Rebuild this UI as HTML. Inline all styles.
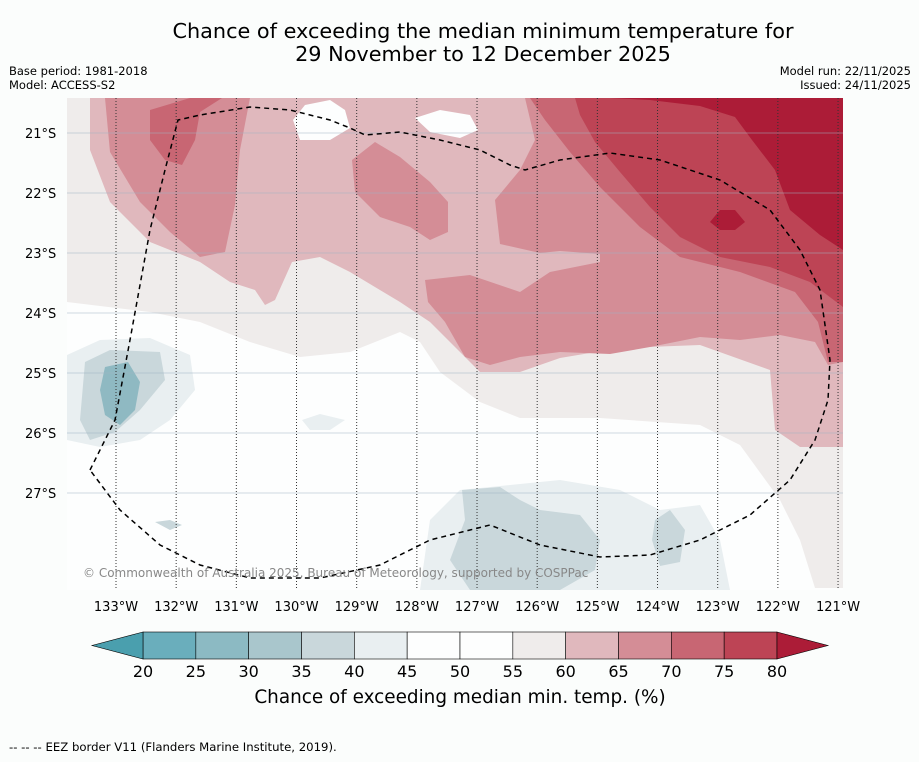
<!DOCTYPE html>
<html><head><meta charset="utf-8">
<style>
html,body{margin:0;padding:0;background:#fbfdfc;}
body{width:919px;height:758px;overflow:hidden;font-family:"DejaVu Sans","Liberation Sans",sans-serif;}
svg text{font-family:"DejaVu Sans","Liberation Sans",sans-serif;}
</style></head>
<body>
<svg width="919" height="758" viewBox="0 0 919 758">
<rect x="0" y="0" width="919" height="758" fill="#fbfdfc"/>
<text x="483" y="38" text-anchor="middle" font-size="20.8" fill="#000">Chance of exceeding the median minimum temperature for</text>
<text x="483" y="61" text-anchor="middle" font-size="20.8" fill="#000">29 November to 12 December 2025</text>
<text x="9" y="75" font-size="11.5">Base period: 1981-2018</text>
<text x="9" y="89" font-size="11.5">Model: ACCESS-S2</text>
<text x="911" y="75" font-size="11.5" text-anchor="end">Model run: 22/11/2025</text>
<text x="911" y="89" font-size="11.5" text-anchor="end">Issued: 24/11/2025</text>

<defs><clipPath id="mapclip"><rect x="67" y="98" width="776" height="492"/></clipPath></defs>
<g clip-path="url(#mapclip)">
<rect x="67" y="98" width="776" height="492" fill="#fdfefe"/>
<path fill="#efeceb" d="M67,98 L843,98 L843,588 L815,588 L800,540 L780,500 L740,445 L700,425 L600,418 L520,418 L480,402 L440,372 L420,342 L400,332 L350,352 L300,357 L250,342 L200,322 L150,312 L67,302 Z"/>
<path fill="#e0b8bd" d="M90,98 L843,98 L843,447 L800,447 L775,430 L770,370 L700,345 L620,348 L560,358 L520,372 L480,372 L460,352 L430,322 L400,302 L350,272 L320,257 L292,262 L275,300 L265,305 L255,290 L230,282 L200,262 L150,242 L110,202 L90,150 Z"/>
<path fill="#fdfefe" d="M293,120 L305,105 L330,100 L345,110 L350,128 L330,140 L300,140 Z M415,118 L440,110 L470,115 L478,130 L460,138 L430,132 Z"/>
<path fill="#d48d96" d="M105,98 L250,98 L240,150 L235,205 L225,252 L200,257 L170,232 L140,202 L110,152 Z M352,160 L375,142 L400,157 L430,182 L448,202 L448,232 L430,240 L410,227 L380,217 L355,192 Z M490,98 L843,98 L843,362 L828,365 L815,342 L780,335 L740,340 L700,337 L650,347 L610,354 L560,352 L520,357 L490,365 L465,357 L445,322 L428,302 L425,280 L470,275 L520,292 L550,272 L600,262 L600,254 L560,251 L540,253 L500,244 L495,200 L520,170 L535,140 L525,98 Z"/>
<path fill="#c86673" d="M530,98 L843,98 L843,362 L828,362 L818,322 L795,292 L740,272 L680,257 L640,227 L600,187 L570,152 L545,120 Z M150,110 L190,98 L222,98 L200,112 L195,140 L182,165 L165,160 L150,140 Z"/>
<path fill="#bd4455" d="M575,98 L843,98 L843,307 L810,282 L770,267 L720,257 L680,237 L650,207 L620,172 L595,142 L580,115 Z"/>
<path fill="#ac1c37" d="M610,98 L843,98 L843,250 L820,235 L790,210 L775,170 L752,140 L735,117 L700,106 L650,100 Z M710,222 L720,210 L735,210 L745,222 L735,230 L720,230 Z"/>
<path fill="#e9eff1" d="M67,355 L100,340 L150,338 L190,355 L195,390 L170,420 L140,440 L100,447 L67,440 Z M420,590 L430,520 L460,490 L510,485 L560,480 L620,490 L660,510 L700,505 L720,540 L730,590 Z M302,420 L320,414 L345,420 L330,430 L310,430 Z"/>
<path fill="#c9d7db" d="M85,362 L110,350 L160,352 L165,380 L140,410 L115,432 L90,440 L80,420 Z M462,490 L500,487 L520,500 L540,510 L580,515 L600,540 L595,570 L560,590 L470,590 L450,560 L465,520 Z M655,520 L670,510 L685,530 L680,562 L660,566 L652,540 Z M155,522 L170,520 L182,525 L170,530 Z"/>
<path fill="#8fb9c2" d="M105,367 L128,362 L140,382 L135,410 L120,425 L105,415 L100,390 Z"/>
<g stroke="#9fb3c3" stroke-width="0.5">
<line x1="67" y1="133" x2="843" y2="133"/><line x1="67" y1="193" x2="843" y2="193"/><line x1="67" y1="253" x2="843" y2="253"/><line x1="67" y1="313" x2="843" y2="313"/><line x1="67" y1="373" x2="843" y2="373"/><line x1="67" y1="433" x2="843" y2="433"/><line x1="67" y1="493" x2="843" y2="493"/>
</g>
<g id="lon-grid" stroke="#333" stroke-width="1" stroke-dasharray="1,2"></g>
<path fill="none" stroke="#000" stroke-width="1.5" stroke-dasharray="5,4" d="M90,470 L115,420 L130,340 L150,230 L165,170 L178,120 L200,115 L250,107 L290,110 L330,120 L350,128 L365,135 L400,132 L440,140 L480,150 L510,165 L525,170 L560,160 L610,153 L660,160 L720,180 L770,210 L800,250 L820,290 L830,360 L828,400 L815,440 L790,480 L750,515 L700,540 L650,555 L600,557 L540,545 L490,525 L470,530 L430,540 L410,550 L380,565 L320,578 L250,578 L200,565 L160,545 L120,510 Z"/>
<text x="83" y="577" font-size="12" fill="#888">© Commonwealth of Australia 2025, Bureau of Meteorology, supported by COSPPac</text>
</g>
<g id="lat-labels"></g>
<g id="lon-labels"></g>
<g id="colorbar"></g>
<text x="460" y="703" text-anchor="middle" font-size="18.4">Chance of exceeding median min. temp. (%)</text>
<text x="9" y="751" font-size="11.7">--  --  -- EEZ border V11 (Flanders Marine Institute, 2019).</text>
</svg>
<script>
const lats=[21,22,23,24,25,26,27];
const lons=[133,132,131,130,129,128,127,126,125,124,123,122,121];
const levels=[20,25,30,35,40,45,50,55,60,65,70,75,80];
const levelColors=["#6aaebc","#8cbac3","#a9c6cc","#c9d7db","#e9eff1","#fdfefe","#fdfefe","#efeceb","#e0b8bd","#d48d96","#c86673","#bd4455"];
const ns="http://www.w3.org/2000/svg";
const xLon=l=>116+(133-l)*60.17;
const yLat=l=>133+(l-21)*60;
const lg=document.getElementById('lon-grid'),ll=document.getElementById('lon-labels'),la=document.getElementById('lat-labels');
lons.forEach(l=>{const x=xLon(l);
 const ln=document.createElementNS(ns,'line');ln.setAttribute('x1',x);ln.setAttribute('x2',x);ln.setAttribute('y1',98);ln.setAttribute('y2',590);
 
 
 lg.appendChild(ln);
 const t=document.createElementNS(ns,'text');t.setAttribute('x',x);t.setAttribute('y',611);t.setAttribute('text-anchor','middle');t.setAttribute('font-size','13');t.textContent=l+'°W';
 
 
 ll.appendChild(t);});
lats.forEach(l=>{const t=document.createElementNS(ns,'text');t.setAttribute('x',25);t.setAttribute('y',yLat(l)+5);t.setAttribute('font-size','13');t.textContent=l+'°S';
 
 
 la.appendChild(t);});
const cb=document.getElementById('colorbar');
const x0=143,x1=777,w=(x1-x0)/(levels.length-1),y0=632,h=27;
levelColors.forEach((c,i)=>{const r=document.createElementNS(ns,'rect');r.setAttribute('x',x0+i*w);r.setAttribute('y',y0);r.setAttribute('width',w);r.setAttribute('height',h);r.setAttribute('fill',c);r.setAttribute('stroke','#000');r.setAttribute('stroke-width','0.6');
 
 
 cb.appendChild(r);});
const a1=document.createElementNS(ns,'polygon');a1.setAttribute('points',`${x0},${y0} 92,${y0+h/2} ${x0},${y0+h}`);a1.setAttribute('fill','#4a9fae');a1.setAttribute('stroke','#000');a1.setAttribute('stroke-width','0.6');


cb.appendChild(a1);
const a2=document.createElementNS(ns,'polygon');a2.setAttribute('points',`${x1},${y0} 828,${y0+h/2} ${x1},${y0+h}`);a2.setAttribute('fill','#ac1c37');a2.setAttribute('stroke','#000');a2.setAttribute('stroke-width','0.6');


cb.appendChild(a2);
levels.forEach((v,i)=>{const t=document.createElementNS(ns,'text');t.setAttribute('x',x0+i*w);t.setAttribute('y',677);t.setAttribute('text-anchor','middle');t.setAttribute('font-size','16');t.textContent=v;
 
 
 cb.appendChild(t);});
</script>
</body></html>
